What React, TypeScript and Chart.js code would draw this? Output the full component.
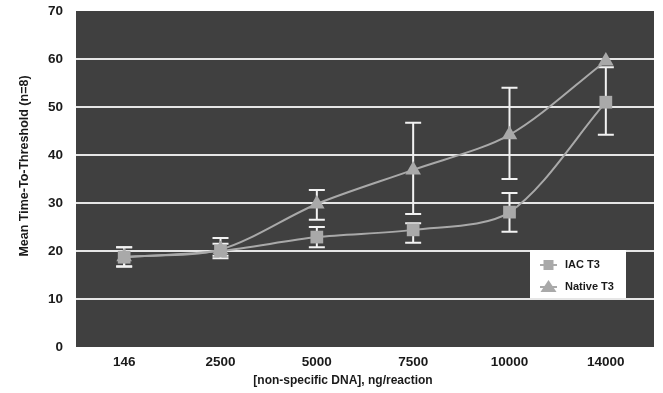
import React, { useEffect, useRef } from "react";
import { Chart, registerables } from "chart.js";

Chart.register(...registerables);

const categories = ["146", "2500", "5000", "7500", "10000", "14000"];
const iacT3 = [18.7, 20.0, 22.9, 24.4, 28.1, 51.0];
const iacLow = [16.7, 18.5, 20.8, 21.7, 24.0, 44.2];
const iacHigh = [20.8, 21.5, 25.0, 25.8, 32.1, 58.3];
const nativeT3 = [18.8, 20.3, 29.8, 36.9, 44.2, 59.6];
const nativeLow = [16.8, 19.0, 26.5, 27.7, 35.0, 59.6];
const nativeHigh = [20.8, 22.7, 32.7, 46.7, 54.0, 59.6];
const seriesNames = ["IAC T3", "Native T3"];
const yTicks = [0, 10, 20, 30, 40, 50, 60, 70];
const xTitle = "[non-specific DNA], ng/reaction";
const yTitle = "Mean Time-To-Threshold (n=8)";

const FONT = "'Liberation Sans', Arial, sans-serif";
const SERIES_COLOR = "#a9a9a9";
const PLOT_BG = "#404040";
const TEXT_COLOR = "#1a1a1a";

const bgPlugin = {
  id: "plotBg",
  beforeDraw(chart: any) {
    const { ctx, chartArea } = chart;
    ctx.save();
    ctx.fillStyle = PLOT_BG;
    ctx.fillRect(chartArea.left, chartArea.top, chartArea.right - chartArea.left, chartArea.bottom - chartArea.top);
    ctx.restore();
  },
};

const titlesPlugin = {
  id: "axisTitles",
  afterDraw(chart: any) {
    const { ctx, chartArea } = chart;
    ctx.save();
    ctx.fillStyle = TEXT_COLOR;
    ctx.font = `bold 12px ${FONT}`;
    ctx.textAlign = "center";
    ctx.textBaseline = "middle";
    ctx.fillText(xTitle, chartArea.left + (chartArea.right - chartArea.left) / 2 - 22, chartArea.bottom + 34);
    ctx.translate(25, chartArea.top + (chartArea.bottom - chartArea.top) / 2 - 13);
    ctx.rotate(-Math.PI / 2);
    ctx.font = `bold 12.5px ${FONT}`;
    ctx.fillText(yTitle, 0, 0);
    ctx.restore();
  },
};

const errorBarPlugin = {
  id: "errorBars",
  beforeDatasetsDraw(chart: any) {
    const { ctx } = chart;
    const y = chart.scales.y;
    const lows = [iacLow, nativeLow];
    const highs = [iacHigh, nativeHigh];
    ctx.save();
    ctx.strokeStyle = "#f2f2f2";
    ctx.lineWidth = 2;
    [0, 1].forEach((di) => {
      const meta = chart.getDatasetMeta(di);
      meta.data.forEach((pt: any, i: number) => {
        const lo = lows[di][i];
        const hi = highs[di][i];
        if (lo === hi) return;
        const x = pt.x;
        const yl = y.getPixelForValue(lo);
        const yh = y.getPixelForValue(hi);
        const cap = 8;
        ctx.beginPath();
        ctx.moveTo(x, yl);
        ctx.lineTo(x, yh);
        ctx.moveTo(x - cap, yl);
        ctx.lineTo(x + cap, yl);
        ctx.moveTo(x - cap, yh);
        ctx.lineTo(x + cap, yh);
        ctx.stroke();
      });
    });
    ctx.restore();
  },
};

const legendPlugin = {
  id: "customLegend",
  afterDraw(chart: any) {
    const { ctx, chartArea } = chart;
    const w = 96;
    const h = 48;
    const right = chartArea.right - 28;
    const bottom = chartArea.bottom - 49;
    const left = right - w;
    const top = bottom - h;
    ctx.save();
    ctx.fillStyle = "#ffffff";
    ctx.fillRect(left, top, w, h);
    const styles = ["rect", "triangle"];
    seriesNames.forEach((name, i) => {
      const cy = top + 15 + i * 22;
      const lx0 = left + 10;
      const lx1 = left + 27;
      ctx.strokeStyle = SERIES_COLOR;
      ctx.lineWidth = 2;
      ctx.beginPath();
      ctx.moveTo(lx0, cy);
      ctx.lineTo(lx1, cy);
      ctx.stroke();
      ctx.fillStyle = SERIES_COLOR;
      const cx = (lx0 + lx1) / 2;
      ctx.beginPath();
      if (styles[i] === "rect") {
        ctx.rect(cx - 5, cy - 5, 10, 10);
      } else {
        ctx.moveTo(cx, cy - 7);
        ctx.lineTo(cx + 8, cy + 5);
        ctx.lineTo(cx - 8, cy + 5);
        ctx.closePath();
      }
      ctx.fill();
      ctx.fillStyle = TEXT_COLOR;
      ctx.font = `bold 11px ${FONT}`;
      ctx.textAlign = "left";
      ctx.textBaseline = "middle";
      ctx.fillText(name, left + 35, cy);
    });
    ctx.restore();
  },
};

export default function App() {
  const ref = useRef<HTMLCanvasElement | null>(null);

  useEffect(() => {
    if (!ref.current) return;
    const chart = new Chart(ref.current, {
      type: "line",
      data: {
        labels: categories,
        datasets: [
          {
            label: seriesNames[0],
            data: iacT3,
            borderColor: SERIES_COLOR,
            backgroundColor: SERIES_COLOR,
            borderWidth: 2,
            pointStyle: "rect",
            pointRadius: 9,
            pointBorderWidth: 0,
            tension: 0.3,
            fill: false,
          },
          {
            label: seriesNames[1],
            data: nativeT3,
            borderColor: SERIES_COLOR,
            backgroundColor: SERIES_COLOR,
            borderWidth: 2,
            pointStyle: "triangle",
            pointRadius: 9,
            pointBorderWidth: 0,
            tension: 0.3,
            fill: false,
          },
        ],
      },
      options: {
        animation: false,
        responsive: false,
        layout: { padding: { left: 0, right: 8, top: 11, bottom: 0 } },
        plugins: {
          legend: { display: false },
          tooltip: { enabled: false },
        },
        scales: {
          x: {
            offset: true,
            grid: { display: false, drawTicks: false, offset: true },
            border: { display: false },
            ticks: {
              color: TEXT_COLOR,
              font: { family: FONT, size: 13.5, weight: "bold" },
              padding: 7,
            },
            afterFit(scale: any) {
              scale.height = 46;
              scale.paddingLeft = 0;
              scale.paddingRight = 0;
            },
          },
          y: {
            min: 0,
            max: 70,
            grid: {
              drawTicks: false,
              lineWidth: 2,
              color: (c: any) => (c.tick && (c.tick.value === 0 || c.tick.value === 70) ? "rgba(0,0,0,0)" : "#e6e6e6"),
            },
            border: { display: false },
            afterBuildTicks(scale: any) {
              scale.ticks = yTicks.map((v) => ({ value: v }));
            },
            ticks: {
              color: TEXT_COLOR,
              font: { family: FONT, size: 13.5, weight: "bold" },
              padding: 13,
            },
            afterFit(scale: any) {
              scale.width = 76;
              scale.paddingTop = 0;
              scale.paddingBottom = 0;
            },
          },
        },
      },
      plugins: [bgPlugin, errorBarPlugin, legendPlugin, titlesPlugin],
    } as any);
    return () => chart.destroy();
  }, []);

  return (
    <div style={{ position: "fixed", left: 0, top: 0, width: 663, height: 393, background: "#ffffff" }}>
      <canvas ref={ref} width={663} height={393} />
    </div>
  );
}
